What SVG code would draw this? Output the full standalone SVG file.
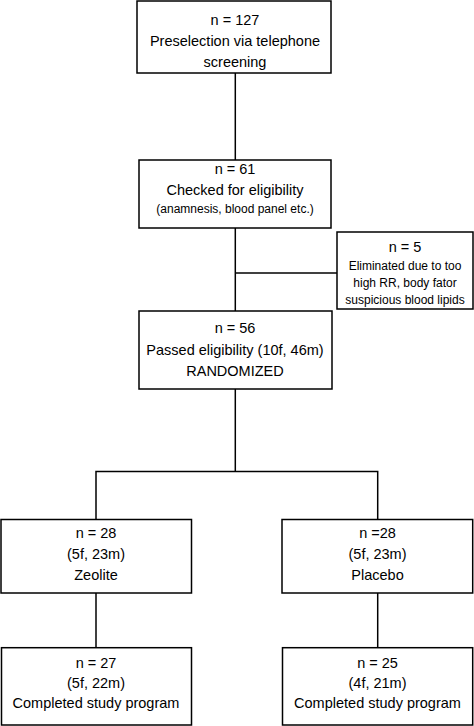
<svg xmlns="http://www.w3.org/2000/svg" width="474" height="726" viewBox="0 0 474 726">
<style>
.box{fill:#fff;stroke:#000;stroke-width:1.5}
.ln{stroke:#000;stroke-width:1.5;fill:none}
text{font-family:"Liberation Sans",Arial,Helvetica,sans-serif;font-size:14.5px;fill:#000;text-anchor:middle}
.s{font-size:12px}
</style>
<rect width="474" height="726" fill="#fff"/>
<g id="connectors">
<line class="ln" x1="235.3" y1="73" x2="235.3" y2="160"/>
<line class="ln" x1="235.3" y1="228" x2="235.3" y2="311"/>
<line class="ln" x1="235.3" y1="273" x2="337" y2="273"/>
<line class="ln" x1="235.3" y1="389" x2="235.3" y2="471.5"/>
<polyline class="ln" points="96,519.5 96,471.5 377.7,471.5 377.7,519.5"/>
<line class="ln" x1="96" y1="593" x2="96" y2="647.7"/>
<line class="ln" x1="377.7" y1="593" x2="377.7" y2="647.7"/>
</g>
<g id="n127">
<rect class="box" x="137" y="1" width="194" height="72"/>
<text x="235" y="25">n = 127</text>
<text x="235" y="46">Preselection via telephone</text>
<text x="235" y="67">screening</text>
</g>
<g id="n61">
<rect class="box" x="139" y="160" width="192" height="68"/>
<text x="235" y="174">n = 61</text>
<text x="235" y="195">Checked for eligibility</text>
<text class="s" x="235" y="213">(anamnesis, blood panel etc.)</text>
</g>
<g id="n5">
<rect class="box" x="337" y="232" width="136" height="77"/>
<text x="405" y="252">n = 5</text>
<text class="s" x="405" y="270">Eliminated due to too</text>
<text class="s" x="405" y="287">high RR, body fator</text>
<text class="s" x="405" y="304">suspicious blood lipids</text>
</g>
<g id="n56">
<rect class="box" x="139" y="311" width="193" height="78"/>
<text x="235" y="333">n = 56</text>
<text x="235" y="355">Passed eligibility (10f, 46m)</text>
<text x="235" y="376">RANDOMIZED</text>
</g>
<g id="zeolite">
<rect class="box" x="1" y="519.5" width="190.5" height="73.5"/>
<text x="96" y="538">n = 28</text>
<text x="96" y="559">(5f, 23m)</text>
<text x="96" y="580">Zeolite</text>
</g>
<g id="placebo">
<rect class="box" x="282" y="519.5" width="190.7" height="73.5"/>
<text x="377.5" y="538">n =28</text>
<text x="377.5" y="559">(5f, 23m)</text>
<text x="377.5" y="580">Placebo</text>
</g>
<g id="zeolite-done">
<rect class="box" x="1.5" y="647.7" width="190" height="77.3"/>
<text x="96" y="668">n = 27</text>
<text x="96" y="688">(5f, 22m)</text>
<text x="96" y="708">Completed study program</text>
</g>
<g id="placebo-done">
<rect class="box" x="282.5" y="647.7" width="190.2" height="77.3"/>
<text x="377.5" y="668">n = 25</text>
<text x="377.5" y="688">(4f, 21m)</text>
<text x="377.5" y="708">Completed study program</text>
</g>
</svg>
